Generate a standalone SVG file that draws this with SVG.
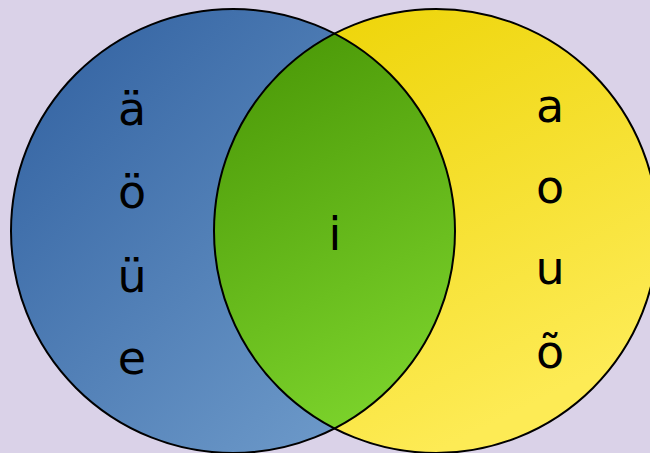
<svg xmlns="http://www.w3.org/2000/svg" width="650" height="453" viewBox="0 0 650 453">
<defs>
<linearGradient id="gb" x1="0" y1="0" x2="1" y2="1">
<stop offset="0" stop-color="#2f5f9f"/>
<stop offset="1" stop-color="#77a3d0"/>
</linearGradient>
<linearGradient id="gy" x1="0" y1="0" x2="0.5" y2="1">
<stop offset="0" stop-color="#ecd200"/>
<stop offset="1" stop-color="#fdeb55"/>
</linearGradient>
<linearGradient id="gg" x1="0.3" y1="0" x2="0.8" y2="1">
<stop offset="0" stop-color="#4c9a08"/>
<stop offset="1" stop-color="#8ae436"/>
</linearGradient>
<clipPath id="cb"><circle cx="233" cy="231" r="222"/></clipPath>
<style>
.c{stroke:#000;stroke-width:2}
.t{font-family:"DejaVu Sans",sans-serif;font-size:46px;fill:#000;text-anchor:middle}
</style>
</defs>
<rect width="650" height="453" fill="#dad2e8"/>
<g id="blue"><circle cx="233" cy="231" r="222" fill="url(#gb)"/></g>
<g id="yellow"><circle cx="436" cy="231" r="222" fill="url(#gy)"/></g>
<g id="overlap"><circle cx="436" cy="231" r="222" fill="url(#gg)" clip-path="url(#cb)"/></g>
<g id="outlines" fill="none">
<circle class="c" cx="233" cy="231" r="222"/>
<circle class="c" cx="436" cy="231" r="222"/>
</g>
<g id="left-labels">
<text class="t" x="132" y="125">ä</text>
<text class="t" x="132" y="208">ö</text>
<text class="t" x="132" y="292">ü</text>
<text class="t" x="132" y="374">e</text>
</g>
<g id="right-labels">
<text class="t" x="550" y="122">a</text>
<text class="t" x="550" y="203">o</text>
<text class="t" x="550" y="284">u</text>
<text class="t" x="550" y="368">õ</text>
</g>
<g id="center-label"><text class="t" x="335" y="250">i</text></g>
</svg>
